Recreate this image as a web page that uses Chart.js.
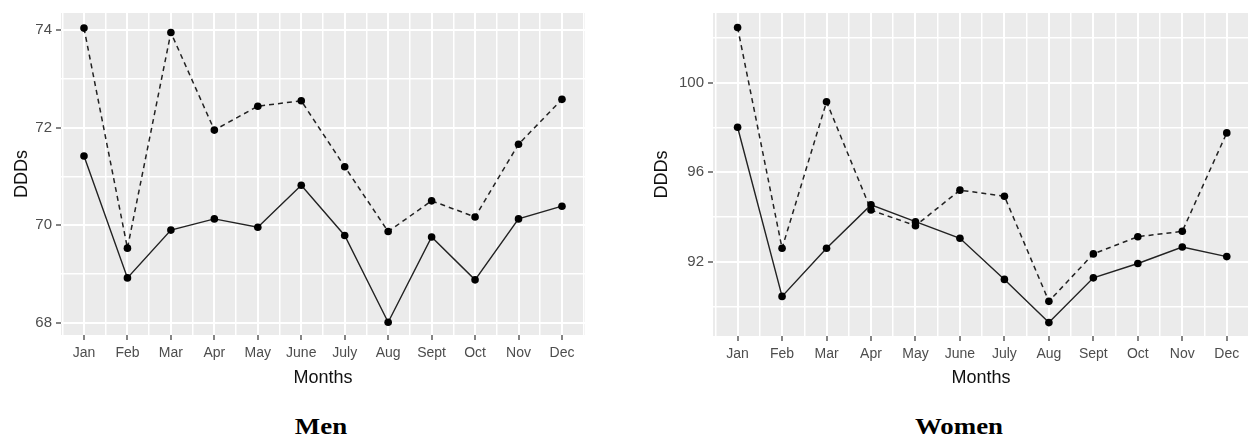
<!DOCTYPE html>
<html><head><meta charset="utf-8">
<script src="https://cdn.jsdelivr.net/npm/chart.js@4/dist/chart.umd.min.js"></script>
<style>
html,body{margin:0;padding:0;background:#fff;width:1249px;height:437px;overflow:hidden;position:relative}
canvas{position:absolute;top:0}
.ttl{position:absolute;font:bold 24px "Liberation Serif","Times New Roman",serif;line-height:24px;text-align:center;width:200px;top:414px;transform:scaleX(1.12);color:#000}
</style></head><body>
<canvas id="men" width="620" height="400" style="left:0"></canvas>
<canvas id="women" width="640" height="400" style="left:630px"></canvas>
<div class="ttl" style="left:221px">Men</div>
<div class="ttl" style="left:859px">Women</div>
<script>
const months = ['Jan','Feb','Mar','Apr','May','June','July','Aug','Sept','Oct','Nov','Dec'];
const menSolid   = [71.42, 68.92, 69.90, 70.13, 69.96, 70.82, 69.79, 68.01, 69.76, 68.88, 70.13, 70.39];
const menDashed  = [74.04, 69.53, 73.95, 71.95, 72.44, 72.55, 71.20, 69.87, 70.50, 70.17, 71.66, 72.58];
const womenSolid  = [98.00, 90.44, 92.59, 94.53, 93.78, 93.04, 91.20, 89.27, 91.27, 91.91, 92.65, 92.22];
const womenDashed = [102.46, 92.59, 99.14, 94.30, 93.60, 95.19, 94.92, 90.22, 92.34, 93.11, 93.35, 97.75];
const menMajorTicks = [68, 70, 72, 74];
const menMinorTicks = [69, 71, 73];
const womenMajorTicks = [92, 96, 100];
const womenMinorTicks = [90, 94, 98, 102];

const panelBg = {
  id: 'panelBg',
  beforeDraw(chart) {
    const a = chart.chartArea, c = chart.ctx;
    c.save(); c.fillStyle = '#EBEBEB';
    c.fillRect(a.left, a.top, a.right - a.left, a.bottom - a.top);
    c.restore();
  }
};

function pts(vals) { return vals.map((v, i) => ({x: i + 1, y: v})); }

function makeChart(id, solid, dashed, major, minor, g) {
  const isMajorX = v => Number.isInteger(v);
  const isMajorY = v => major.includes(v);
  new Chart(document.getElementById(id), {
    type: 'line',
    data: {
      datasets: [
        {data: pts(solid), borderColor: '#222', borderWidth: 1.4, pointRadius: 3.8, pointBackgroundColor: '#000', pointBorderWidth: 0, tension: 0},
        {data: pts(dashed), borderColor: '#222', borderWidth: 1.5, borderDash: [5, 4], pointRadius: 3.8, pointBackgroundColor: '#000', pointBorderWidth: 0, tension: 0}
      ]
    },
    options: {
      responsive: false, animation: false, devicePixelRatio: 1,
      layout: {padding: {left: 0, top: g.top, right: g.right, bottom: 0}},
      plugins: {legend: {display: false}, tooltip: {enabled: false}},
      scales: {
        x: {
          type: 'linear', min: g.xmin, max: g.xmax,
          afterBuildTicks(s) {
            const t = [];
            for (let i = 0; i <= months.length; i++) {
              if (i + 0.5 >= g.xmin && i + 0.5 <= g.xmax) t.push({value: i + 0.5});
              if (i < months.length) t.push({value: i + 1});
            }
            s.ticks = t.sort((a, b) => a.value - b.value);
          },
          afterFit(s) { s.height = g.xh; },
          border: {display: false},
          grid: {
            color: '#FFFFFF',
            lineWidth: c => (c.tick && isMajorX(c.tick.value)) ? 2 : 1.5,
            tickColor: c => (c.tick && isMajorX(c.tick.value)) ? '#333333' : 'rgba(0,0,0,0)',
            tickLength: 5, tickWidth: 1.2
          },
          ticks: {
            autoSkip: false, maxRotation: 0, padding: 5, color: '#4D4D4D',
            font: {family: 'Liberation Sans, Arial, sans-serif', size: 14},
            callback: v => isMajorX(v) ? months[v - 1] : ''
          },
          title: {display: true, text: 'Months', color: '#111', font: {family: 'Liberation Sans, Arial, sans-serif', size: 18}, padding: {top: 0, bottom: 11}}
        },
        y: {
          type: 'linear', min: g.ymin, max: g.ymax,
          afterBuildTicks(s) {
            s.ticks = [...major, ...minor].sort((a, b) => a - b).map(v => ({value: v}));
          },
          afterFit(s) { s.width = g.yw; },
          border: {display: false},
          grid: {
            color: '#FFFFFF',
            lineWidth: c => (c.tick && isMajorY(c.tick.value)) ? 2 : 1.5,
            tickColor: c => (c.tick && isMajorY(c.tick.value)) ? '#333333' : 'rgba(0,0,0,0)',
            tickLength: 5, tickWidth: 1.2
          },
          ticks: {
            autoSkip: false, padding: 4, color: '#4D4D4D',
            font: {family: 'Liberation Sans, Arial, sans-serif', size: 15},
            callback: v => isMajorY(v) ? String(v) : ''
          },
          title: {display: true, text: 'DDDs', color: '#111', font: {family: 'Liberation Sans, Arial, sans-serif', size: 18}, padding: {top: g.ytp, bottom: 0}}
        }
      }
    },
    plugins: [panelBg]
  });
}

makeChart('men', menSolid, menDashed, menMajorTicks, menMinorTicks,
  {top: 13, right: 35, xh: 65, yw: 61, xmin: 0.471, xmax: 12.53, ymin: 67.75, ymax: 74.35, ytp: 11});
makeChart('women', womenSolid, womenDashed, womenMajorTicks, womenMinorTicks,
  {top: 11, right: 21, xh: 64, yw: 83, xmin: 0.447, xmax: 12.5, ymin: 88.67, ymax: 103.11, ytp: 21});
</script>
</body></html>
